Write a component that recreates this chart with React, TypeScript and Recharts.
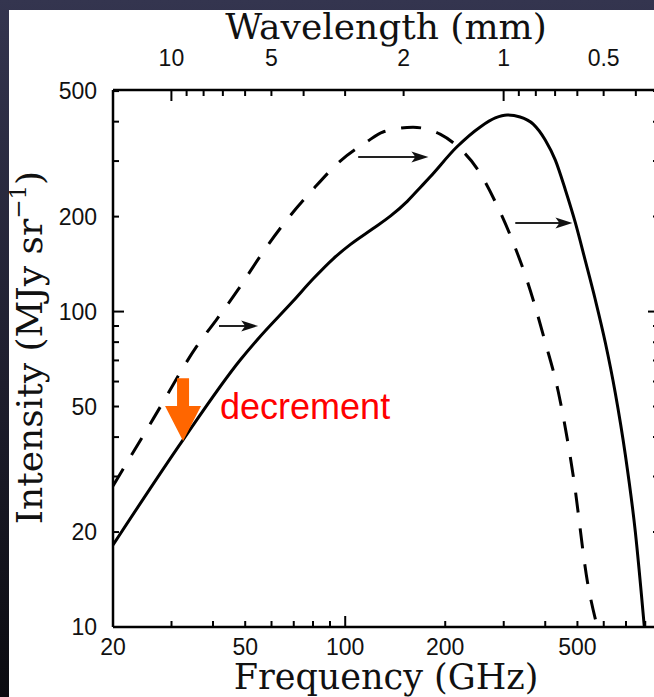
import React from 'react';
import { ComposedChart, Line, XAxis, YAxis, ReferenceLine, Label } from 'recharts';

// c in mm * GHz, to turn wavelength ticks into frequency positions
const C_MM_GHZ = 299.792;

// solid curve
const solidFreq = [20, 32.5, 48.3, 54.3, 69.7, 80.1, 92, 103.5, 121, 137, 154, 168, 180, 217, 255, 283, 307, 336, 368, 400, 429, 460, 493, 528, 566, 607, 650, 697, 747, 795];
const solidIntensity = [18.2, 39.2, 70.2, 81.3, 108, 127, 147, 163, 183, 201, 224, 247, 267, 333, 385, 411, 420, 414, 393, 350, 302, 243, 191, 145, 109, 79.5, 55.2, 35.1, 20, 10];

// dashed curve
const dashedFreq = [20, 26.4, 35.8, 41.1, 48.3, 55.5, 66.9, 80, 96.6, 116, 130, 160, 193, 217, 250, 287, 320, 354, 400, 438, 486, 536, 574];
const dashedIntensity = [28, 45.6, 77.8, 94.7, 120, 150, 196, 244, 300, 345, 371, 384, 365, 335, 283, 216, 166, 124, 80, 55.6, 30, 13.9, 10];

// shift arrows: [from freq, to freq, intensity]
const shiftArrows = [
  [41.7, 54.7, 90],
  [109.4, 178, 309],
  [325, 483, 191],
];

// orange "decrement" arrow: freq, top intensity, tip intensity
const decrementArrow = [32.5, 61.5, 38.9];
const decrementText = 'decrement';

const freqDomain = [20, 880];
const intensityDomain = [10, 504];

const freqTicks = [20, 30, 40, 50, 60, 70, 80, 90, 100, 200, 300, 400, 500, 600, 700, 800];
const freqLabels = [20, 50, 100, 200, 500];
const intensityTicks = [10, 20, 30, 40, 50, 60, 70, 80, 90, 100, 200, 300, 400, 500];
const intensityLabels = [10, 20, 50, 100, 200, 500];
const wavelengthTicks = [10, 9, 8, 7, 6, 5, 4, 3, 2, 1, 0.9, 0.8, 0.7, 0.6, 0.5, 0.4];
const wavelengthLabels = [10, 5, 2, 1, 0.5];
const decades = [1, 10, 100];

const solidData = solidFreq.map((f, i) => ({ f, v: solidIntensity[i] }));
const dashedData = dashedFreq.map((f, i) => ({ f, v: dashedIntensity[i] }));
const topTicks = wavelengthTicks.map((l) => C_MM_GHZ / l);
const toWavelength = (f: number) => Math.round((C_MM_GHZ / f) * 10) / 10;

const tickFont = '"Liberation Sans", Arial, sans-serif';
const titleFont = '"DejaVu Serif", serif';

function makeTick(side: 'bottom' | 'top' | 'left' | 'right') {
  return (props: any) => {
    const { x, y, payload } = props;
    const raw = payload.value;
    const v = side === 'top' ? toWavelength(raw) : raw;
    const labels = side === 'top' ? wavelengthLabels : side === 'bottom' ? freqLabels : side === 'left' ? intensityLabels : [];
    const len = decades.includes(v) ? 11 : 6;
    let line;
    let text = null;
    if (side === 'bottom') {
      line = <line x1={x} y1={y} x2={x} y2={y - len} stroke="#000" strokeWidth={2} />;
      if (labels.includes(v))
        text = <text x={x} y={y + 28} textAnchor="middle" fontSize={23} fontFamily={tickFont} fill="#111">{v}</text>;
    } else if (side === 'top') {
      line = <line x1={x} y1={y} x2={x} y2={y + len} stroke="#000" strokeWidth={2} />;
      if (labels.includes(v))
        text = <text x={x} y={y - 24} textAnchor="middle" fontSize={23} fontFamily={tickFont} fill="#111">{v}</text>;
    } else if (side === 'left') {
      line = <line x1={x} y1={y} x2={x + len} y2={y} stroke="#000" strokeWidth={2} />;
      if (labels.includes(v))
        text = <text x={x - 16} y={y + 8} textAnchor="end" fontSize={23} fontFamily={tickFont} fill="#111">{v}</text>;
    } else {
      line = <line x1={x} y1={y} x2={x - len} y2={y} stroke="#000" strokeWidth={2} />;
    }
    return (
      <g>
        {line}
        {text}
      </g>
    );
  };
}

const ShiftArrow = (props: any) => {
  const { x1, y1, x2 } = props;
  return (
    <g>
      <line x1={x1} y1={y1} x2={x2 - 10} y2={y1} stroke="#222" strokeWidth={2} />
      <polygon points={`${x2},${y1} ${x2 - 17},${y1 - 5.5} ${x2 - 13},${y1} ${x2 - 17},${y1 + 5.5}`} fill="#111" />
    </g>
  );
};

const DecrementArrow = (props: any) => {
  const { x1, y1, y2 } = props;
  const headTop = y2 - 35;
  return (
    <g>
      <polygon
        points={`${x1 - 6},${y1} ${x1 + 6},${y1} ${x1 + 6},${headTop} ${x1 + 18},${headTop} ${x1},${y2} ${x1 - 18},${headTop} ${x1 - 6},${headTop}`}
        fill="#ff6600"
      />
      <text x={x1 + 37} y={y1 + 41} fontSize={36} fontFamily={tickFont} fill="#ff0000">
        {decrementText}
      </text>
    </g>
  );
};

export default function App() {
  return (
    <div
      style={{
        position: 'absolute',
        left: 0,
        top: 0,
        width: 654,
        height: 697,
        overflow: 'hidden',
        background: 'linear-gradient(180deg, #34354f 0%, #1c1c2a 60%, #0b0b10 100%)',
      }}
    >
      <div style={{ position: 'absolute', left: 9, top: 10, width: 700, height: 700, background: '#fff' }} />
      <div style={{ position: 'absolute', left: 0, top: 0 }}>
        <ComposedChart width={700} height={697} margin={{ top: 50, right: 20, bottom: 30, left: 53 }}>
          <XAxis
            dataKey="f"
            type="number"
            scale="log"
            domain={freqDomain}
            allowDataOverflow
            ticks={freqTicks}
            interval={0}
            tickSize={0}
            tickMargin={0}
            tickLine={false}
            tick={makeTick('bottom')}
            axisLine={{ stroke: '#000', strokeWidth: 2.5 }}
            height={40}
          >
            <Label
              content={(p: any) => (
                <text x={p.viewBox.x + p.viewBox.width / 2} y={p.viewBox.y + 62} textAnchor="middle" fontSize={35} fontFamily={titleFont} fill="#111">
                  Frequency (GHz)
                </text>
              )}
            />
          </XAxis>
          <XAxis
            xAxisId="top"
            orientation="top"
            dataKey="f"
            type="number"
            scale="log"
            domain={freqDomain}
            allowDataOverflow
            ticks={topTicks}
            interval={0}
            tickSize={0}
            tickMargin={0}
            tickLine={false}
            tick={makeTick('top')}
            axisLine={{ stroke: '#000', strokeWidth: 2.5 }}
            height={40}
          >
            <Label
              content={(p: any) => (
                <text x={p.viewBox.x + p.viewBox.width / 2} y={p.viewBox.y - 11} textAnchor="middle" fontSize={36} fontFamily={titleFont} fill="#111">
                  Wavelength (mm)
                </text>
              )}
            />
          </XAxis>
          <YAxis
            type="number"
            scale="log"
            domain={intensityDomain}
            allowDataOverflow
            ticks={intensityTicks}
            interval={0}
            tickSize={0}
            tickMargin={0}
            tickLine={false}
            tick={makeTick('left')}
            axisLine={{ stroke: '#000', strokeWidth: 2.5 }}
            width={60}
          >
            <Label
              content={(p: any) => {
                const cx = p.viewBox.x - 11;
                const cy = p.viewBox.y + p.viewBox.height / 2 - 11;
                return (
                  <text x={cx} y={cy} textAnchor="middle" transform={`rotate(-90, ${cx}, ${cy})`} fontSize={36} fontFamily={titleFont} fill="#111">
                    Intensity (MJy sr
                    <tspan dy={-16} fontSize={23}>−1</tspan>
                    <tspan dy={16}>)</tspan>
                  </text>
                );
              }}
            />
          </YAxis>
          <YAxis
            yAxisId="right"
            orientation="right"
            type="number"
            scale="log"
            domain={intensityDomain}
            allowDataOverflow
            ticks={intensityTicks}
            interval={0}
            tickSize={0}
            tickMargin={0}
            tickLine={false}
            tick={makeTick('right')}
            axisLine={{ stroke: '#000', strokeWidth: 2.5 }}
            width={21}
          />
          <Line
            data={dashedData}
            dataKey="v"
            type="monotone"
            stroke="#000"
            strokeWidth={3}
            strokeDasharray="20 16"
            dot={false}
            isAnimationActive={false}
          />
          <Line
            data={solidData}
            dataKey="v"
            type="monotone"
            stroke="#000"
            strokeWidth={3}
            dot={false}
            isAnimationActive={false}
          />
          {shiftArrows.map(([a, b, v], i) => (
            <ReferenceLine
              key={i}
              segment={[
                { x: a, y: v },
                { x: b, y: v },
              ]}
              shape={ShiftArrow}
            />
          ))}
          <ReferenceLine
            segment={[
              { x: decrementArrow[0], y: decrementArrow[1] },
              { x: decrementArrow[0], y: decrementArrow[2] },
            ]}
            shape={DecrementArrow}
          />
        </ComposedChart>
      </div>
    </div>
  );
}
